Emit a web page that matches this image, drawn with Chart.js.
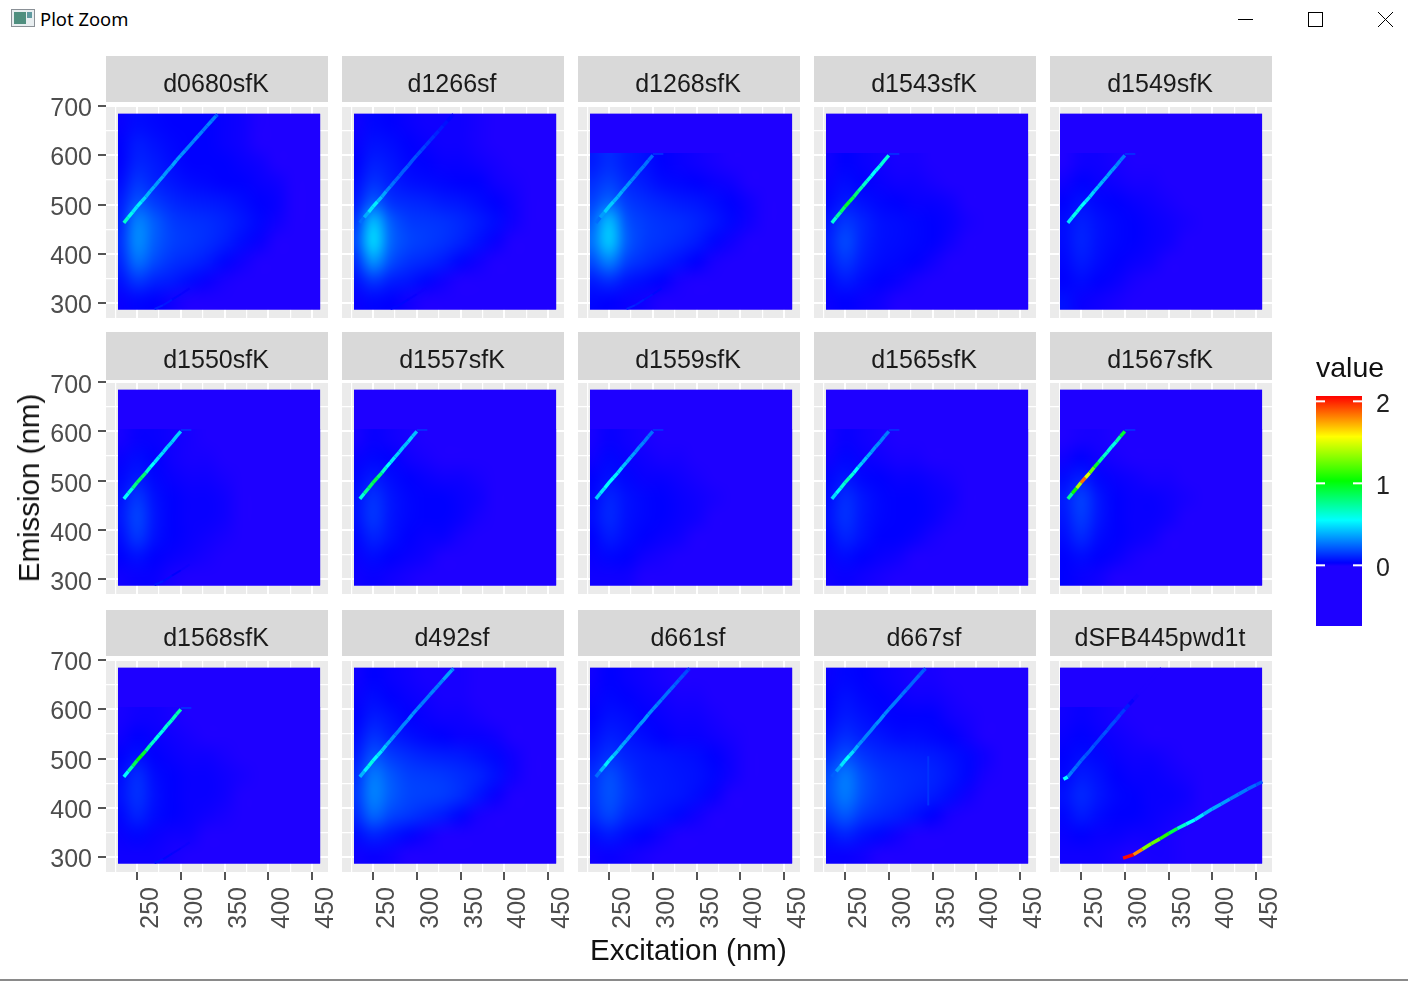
<!DOCTYPE html>
<html lang="en">

<head>
    <meta charset="UTF-8">
    <title>Plot Zoom</title>
    <script src="https://cdn.jsdelivr.net/npm/chart.js"></script>
    <style>
        html,
        body {
            margin: 0;
            padding: 0;
            width: 1408px;
            height: 981px;
            overflow: hidden;
            background-color: #ffffff;
            font-family: "Liberation Sans", Arial, sans-serif;
        }

        canvas,
        .strip,
        .label,
        .win {
            position: absolute;
        }

        canvas,
        .strip,
        .label {
            filter: blur(0.5px);
        }

        .strip {
            width: 222px;
            background: #d9d9d9;
            color: #1a1a1a;
            font-size: 25px;
            text-align: center;
        }

        .label {
            font-size: 29.5px;
            color: #111111;
            white-space: nowrap;
        }
    </style>
</head>

<body>
    <svg class="win" style="left:11px;top:9px" width="24" height="18">
        <rect x="0.5" y="0.5" width="23" height="17" fill="#e8eef0" stroke="#8a9096" />
        <rect x="3" y="3" width="12" height="12" fill="#4f8f7f" />
        <rect x="16" y="3" width="5" height="6" fill="#5f9aa0" />
    </svg>
    <div class="win" style="left:40px;top:6px;font:18.4px 'Noto Sans';color:#000">Plot Zoom</div>
    <svg class="win" style="left:1230px;top:8px" width="170" height="24">
        <line x1="8" y1="11.5" x2="23" y2="11.5" stroke="#000" />
        <rect x="78.5" y="4.5" width="14" height="14" fill="none" stroke="#000" />
        <path d="M148 4 L163 19 M163 4 L148 19" stroke="#000" fill="none" />
    </svg>
    <div class="win" style="left:0;top:979px;width:1408px;height:2px;background:#8a8a8a"></div>

    <div class="label" style="left:590px;top:933px">Excitation (nm)</div>
    <div class="label" style="left:29px;top:488px;transform:translate(-50%,-50%) rotate(-90deg)">Emission (nm)</div>
    <div class="label" style="left:1316px;top:351px;font-size:28.5px">value</div>

    <script>
        const panelNames = [
            'd0680sfK', 'd1266sf', 'd1268sfK', 'd1543sfK', 'd1549sfK',
            'd1550sfK', 'd1557sfK', 'd1559sfK', 'd1565sfK', 'd1567sfK',
            'd1568sfK', 'd492sf', 'd661sf', 'd667sf', 'dSFB445pwd1t'
        ];

        const xGrid = [225, 250, 275, 300, 325, 350, 375, 400, 425, 450];
        const xLabels = [250, 300, 350, 400, 450];
        const yGrid = [300, 350, 400, 450, 500, 550, 600, 650, 700];
        const yLabels = [300, 400, 500, 600, 700];
        const legendLabels = [0, 1, 2];

        // colour bar, values in hundredths
        const stopValues = [-75, -1, 3, 55, 103, 157, 207];
        const stopColours = [[30, 0, 255], [30, 0, 255], [0, 0, 255], [0, 255, 255], [0, 255, 0], [255, 255, 0], [255, 0, 0]];

        // heat cells: columns are excitation, rows run from top (665) to bottom (305), values in hundredths
        const heatEx = [230, 250, 270, 290, 310, 330, 350, 370, 390, 410, 430, 450];
        const heatEm = [665, 625, 585, 545, 505, 465, 425, 385, 345, 305];

        const heatD0680 = [
            [2, 5, 4, 3, 3, 3, 2, 1, -1, -3, -5, -5],
            [3, 8, 6, 4, 3, 3, 2, 1, -1, -3, -5, -5],
            [3, 10, 8, 5, 3, 3, 3, 2, 1, -1, -4, -5],
            [5, 14, 10, 7, 5, 4, 3, 3, 2, 1, -2, -5],
            [8, 20, 15, 11, 9, 8, 7, 5, 3, 2, -2, -5],
            [10, 30, 22, 15, 13, 12, 10, 7, 4, 1, -3, -5],
            [12, 32, 22, 16, 14, 12, 9, 5, 2, -2, -5, -5],
            [10, 26, 18, 13, 11, 8, 4, 1, -2, -4, -5, -5],
            [6, 14, 10, 8, 5, 2, 0, -3, -5, -5, -5, -5],
            [2, 4, 3, 1, -1, -3, -5, -5, -5, -5, -5, -5]
        ];
        const heatD1266 = [
            [1, 4, 3, 2, 1, 1, 1, 0, -2, -4, -5, -5],
            [2, 6, 5, 3, 2, 1, 1, 0, -1, -3, -5, -5],
            [3, 9, 7, 4, 3, 2, 2, 1, 0, -2, -4, -5],
            [5, 13, 9, 6, 5, 4, 3, 3, 1, 0, -3, -5],
            [8, 22, 13, 11, 10, 8, 7, 5, 3, 1, -2, -5],
            [14, 42, 22, 15, 14, 13, 11, 8, 5, 1, -3, -5],
            [18, 48, 24, 17, 15, 13, 10, 6, 2, -2, -5, -5],
            [12, 34, 19, 13, 11, 8, 4, 1, -2, -4, -5, -5],
            [6, 14, 9, 7, 4, 1, -1, -3, -5, -5, -5, -5],
            [2, 4, 3, 1, -1, -3, -5, -5, -5, -5, -5, -5]
        ];
        const heatD1268 = [
            [8, 12, 8, 6, 3, 2, 1, 0, -1, -3, -5, -5],
            [12, 16, 11, 8, 5, 4, 3, 2, 1, -1, -3, -5],
            [16, 24, 15, 12, 10, 8, 7, 5, 3, 1, -1, -5],
            [22, 42, 20, 15, 13, 12, 10, 7, 4, 1, -3, -5],
            [26, 45, 22, 15, 13, 11, 8, 4, 1, -3, -5, -5],
            [18, 30, 16, 12, 9, 6, 3, 0, -3, -5, -5, -5],
            [8, 12, 7, 5, 3, 0, -3, -5, -5, -5, -5, -5],
            [4, 3, 2, 1, -1, -4, -5, -5, -5, -5, -5, -5]
        ];
        const heatD1543 = [
            [1, 3, 2, 1, 0, 0, -1, -2, -4, -5, -5, -5],
            [2, 5, 3, 2, 1, 1, 0, -1, -3, -5, -5, -5],
            [4, 8, 6, 4, 3, 2, 2, 1, -1, -4, -5, -5],
            [7, 14, 10, 6, 5, 4, 3, 2, 0, -3, -5, -5],
            [9, 18, 10, 6, 5, 4, 3, 1, -2, -5, -5, -5],
            [7, 14, 8, 5, 4, 3, 1, -2, -4, -5, -5, -5],
            [4, 8, 5, 3, 2, 0, -2, -4, -5, -5, -5, -5],
            [2, 3, 2, 1, -1, -3, -5, -5, -5, -5, -5, -5]
        ];
        const heatD1549 = [
            [-1, 1, 1, 0, -1, -2, -3, -4, -5, -5, -5, -5],
            [1, 3, 2, 1, 0, 0, -1, -2, -4, -5, -5, -5],
            [3, 6, 4, 3, 2, 1, 0, -1, -3, -5, -5, -5],
            [5, 9, 6, 4, 3, 2, 1, 0, -2, -4, -5, -5],
            [5, 10, 6, 4, 3, 2, 1, -1, -3, -5, -5, -5],
            [4, 8, 5, 3, 2, 1, -1, -3, -5, -5, -5, -5],
            [3, 5, 3, 2, 0, -2, -4, -5, -5, -5, -5, -5],
            [6, 2, 1, 0, -2, -4, -5, -5, -5, -5, -5, -5]
        ];
        const heatD1550 = [
            [0, 2, 2, 1, 0, -1, -2, -4, -5, -5, -5, -5],
            [2, 5, 3, 1, 0, 0, -1, -3, -5, -5, -5, -5],
            [4, 8, 4, 2, 1, 1, 0, -2, -4, -5, -5, -5],
            [6, 14, 6, 3, 2, 2, 1, -1, -3, -5, -5, -5],
            [7, 17, 7, 3, 2, 2, 1, -1, -4, -5, -5, -5],
            [5, 14, 6, 3, 2, 1, 0, -3, -5, -5, -5, -5],
            [3, 6, 3, 2, 1, 0, -2, -4, -5, -5, -5, -5],
            [1, 2, 2, 0, -1, -3, -5, -5, -5, -5, -5, -5]
        ];
        const heatD1557 = [
            [0, 2, 1, 0, -1, -2, -3, -4, -5, -5, -5, -5],
            [2, 4, 3, 1, 0, -1, -1, -2, -4, -5, -5, -5],
            [4, 8, 5, 3, 2, 1, 1, 0, -2, -4, -5, -5],
            [6, 13, 7, 4, 3, 3, 2, 1, -1, -3, -5, -5],
            [6, 14, 7, 4, 3, 3, 2, 0, -2, -4, -5, -5],
            [4, 10, 6, 3, 2, 2, 0, -2, -4, -5, -5, -5],
            [2, 5, 3, 2, 1, -1, -3, -5, -5, -5, -5, -5],
            [1, 2, 1, 0, -2, -4, -5, -5, -5, -5, -5, -5]
        ];
        const heatD1559 = [
            [0, 2, 1, 0, -1, -1, -2, -3, -5, -5, -5, -5],
            [1, 4, 2, 1, 0, 0, -1, -2, -4, -5, -5, -5],
            [3, 6, 4, 2, 2, 1, 0, -1, -3, -5, -5, -5],
            [4, 10, 6, 4, 3, 2, 1, 0, -2, -4, -5, -5],
            [5, 11, 6, 4, 3, 2, 1, -1, -3, -5, -5, -5],
            [3, 8, 5, 3, 2, 1, -1, -3, -5, -5, -5, -5],
            [2, 4, 3, 1, 0, -1, -3, -5, -5, -5, -5, -5],
            [1, 1, 1, -1, -3, -5, -5, -5, -5, -5, -5, -5]
        ];
        const heatD1565 = [
            [0, 2, 1, 0, -1, -1, -2, -3, -5, -5, -5, -5],
            [1, 4, 2, 1, 0, 0, -1, -2, -4, -5, -5, -5],
            [4, 7, 4, 3, 2, 2, 1, 0, -2, -4, -5, -5],
            [5, 12, 7, 4, 3, 3, 2, 1, -1, -3, -5, -5],
            [6, 13, 7, 4, 3, 3, 2, 0, -2, -4, -5, -5],
            [4, 10, 6, 3, 3, 2, 0, -2, -4, -5, -5, -5],
            [2, 5, 3, 2, 1, -1, -3, -5, -5, -5, -5, -5],
            [1, 2, 1, 0, -2, -4, -5, -5, -5, -5, -5, -5]
        ];
        const heatD1567 = [
            [-1, 0, 0, -1, -2, -3, -4, -5, -5, -5, -5, -5],
            [1, 3, 1, 0, -1, -1, -2, -3, -5, -5, -5, -5],
            [5, 9, 4, 2, 1, 0, 0, -1, -3, -5, -5, -5],
            [8, 16, 7, 3, 2, 2, 1, 0, -2, -4, -5, -5],
            [7, 15, 7, 3, 2, 2, 1, -1, -3, -5, -5, -5],
            [5, 11, 5, 3, 2, 1, -1, -3, -5, -5, -5, -5],
            [3, 5, 3, 2, 0, -2, -4, -5, -5, -5, -5, -5],
            [3, 2, 1, -1, -3, -5, -5, -5, -5, -5, -5, -5]
        ];
        const heatD1568 = [
            [0, 1, 1, 0, -1, -2, -3, -4, -5, -5, -5, -5],
            [1, 3, 2, 1, 0, -1, -1, -2, -4, -5, -5, -5],
            [3, 6, 3, 2, 1, 1, 0, -1, -3, -5, -5, -5],
            [5, 12, 5, 3, 2, 2, 1, 0, -2, -4, -5, -5],
            [6, 13, 6, 3, 2, 2, 1, -1, -3, -5, -5, -5],
            [4, 10, 5, 3, 2, 1, 0, -2, -4, -5, -5, -5],
            [2, 4, 2, 1, 1, -1, -3, -5, -5, -5, -5, -5],
            [1, 1, 1, 0, -2, -4, -5, -5, -5, -5, -5, -5]
        ];
        const heatD492 = [
            [1, 3, 2, 1, 0, 0, 0, -1, -3, -5, -5, -5],
            [2, 5, 3, 2, 1, 0, 0, -1, -2, -4, -5, -5],
            [3, 8, 6, 3, 2, 1, 1, 0, -1, -3, -5, -5],
            [5, 13, 9, 6, 4, 3, 2, 2, 1, -1, -4, -5],
            [8, 20, 15, 12, 10, 9, 8, 6, 4, 1, -3, -5],
            [12, 28, 21, 16, 15, 14, 12, 10, 6, 1, -4, -5],
            [14, 30, 22, 17, 16, 15, 12, 7, 2, -2, -5, -5],
            [11, 24, 17, 14, 11, 8, 4, 0, -3, -5, -5, -5],
            [5, 10, 7, 4, 1, -1, -3, -5, -5, -5, -5, -5],
            [1, 2, 1, -1, -3, -5, -5, -5, -5, -5, -5, -5]
        ];
        const heatD661 = [
            [1, 3, 2, 1, 0, -1, -1, -2, -4, -5, -5, -5],
            [2, 4, 3, 2, 1, 0, 0, -1, -3, -5, -5, -5],
            [3, 6, 5, 3, 2, 1, 1, 0, -2, -4, -5, -5],
            [5, 9, 7, 5, 3, 2, 2, 1, 0, -2, -5, -5],
            [8, 13, 10, 8, 7, 6, 5, 3, 1, -1, -4, -5],
            [12, 19, 13, 9, 8, 7, 6, 4, 1, -2, -5, -5],
            [13, 20, 14, 10, 8, 7, 5, 2, -1, -4, -5, -5],
            [11, 17, 11, 8, 6, 4, 1, -2, -4, -5, -5, -5],
            [5, 8, 5, 3, 1, -1, -3, -5, -5, -5, -5, -5],
            [1, 2, 1, 0, -2, -4, -5, -5, -5, -5, -5, -5]
        ];
        const heatD667 = [
            [2, 4, 3, 2, 1, 0, 0, -1, -3, -5, -5, -5],
            [3, 6, 4, 3, 2, 1, 1, 0, -2, -4, -5, -5],
            [4, 8, 6, 4, 3, 3, 3, 1, 0, -3, -5, -5],
            [7, 12, 9, 7, 5, 5, 4, 3, 1, -1, -4, -5],
            [12, 19, 14, 11, 10, 9, 8, 6, 4, 1, -3, -5],
            [18, 28, 19, 14, 12, 11, 10, 7, 4, 0, -4, -5],
            [19, 28, 19, 14, 12, 10, 8, 5, 1, -3, -5, -5],
            [14, 21, 14, 11, 9, 6, 3, 0, -3, -5, -5, -5],
            [6, 10, 6, 4, 1, -1, -3, -5, -5, -5, -5, -5],
            [2, 2, 1, -1, -3, -5, -5, -5, -5, -5, -5, -5]
        ];
        const heatDSFB = [
            [1, 2, 1, 0, -1, -2, -3, -4, -5, -5, -5, -5],
            [2, 3, 2, 1, 0, -1, -1, -2, -4, -5, -5, -5],
            [3, 5, 4, 2, 1, 1, 0, -1, -2, -4, -5, -5],
            [4, 8, 6, 3, 2, 2, 1, 0, -1, -3, -5, -5],
            [6, 11, 7, 4, 3, 2, 2, 1, -1, -3, -5, -5],
            [4, 8, 5, 3, 3, 2, 1, 0, -1, -3, -5, -5],
            [2, 3, 2, 2, 1, 1, 0, -1, -3, -5, -5, -5],
            [1, 1, 1, 0, -1, 0, 0, -2, -4, -5, -5, -5]
        ];
        const panelHeat = [
            heatD0680, heatD1266, heatD1268, heatD1543, heatD1549,
            heatD1550, heatD1557, heatD1559, heatD1565, heatD1567,
            heatD1568, heatD492, heatD661, heatD667, heatDSFB
        ];

        // second order line, null where a sample has no value
        const ridgeEx = [230, 235, 240, 245, 250, 255, 260, 265, 270, 275, 280, 285, 290, 295, 300, 305, 310, 315, 320, 325, 330, 335, 340, 342];
        const ridgeEm = [458, 463, 474, 485, 496, 506, 516, 527, 537, 548, 558, 569, 579, 590, 600, 610, 620, 630, 640, 650, 660, 670, 680, 683];
        const ridgeD0680 = [null, 65, 58, 50, 52, 46, 40, 38, 35, 37, 34, 33, 36, 35, 32, 30, 30, 32, 30, 28, 30, 28, 22, 15];
        const ridgeD1266 = [null, 25, 38, 50, 52, 42, 36, 30, 26, 24, 22, 22, 20, 20, 18, 16, 14, 12, 10, 8, 6, 4, 2, 0];
        const ridgeD1268 = [null, 25, 35, 45, 45, 40, 38, 35, 33, 30, 28, 27, 26, 24, 22, null, null, null, null, null, null, null, null, null];
        const ridgeD1543 = [null, 62, 72, 85, 95, 90, 82, 72, 65, 60, 55, 58, 62, 62, 48, null, null, null, null, null, null, null, null, null];
        const ridgeD1549 = [null, 50, 58, 60, 55, 50, 46, 42, 40, 38, 36, 34, 30, 28, 22, null, null, null, null, null, null, null, null, null];
        const ridgeD1550 = [null, 55, 62, 78, 85, 82, 65, 55, 50, 48, 46, 44, 46, 46, 38, null, null, null, null, null, null, null, null, null];
        const ridgeD1557 = [null, 62, 75, 85, 90, 80, 65, 55, 50, 46, 44, 42, 46, 42, 30, null, null, null, null, null, null, null, null, null];
        const ridgeD1559 = [null, 45, 50, 55, 55, 52, 48, 42, 38, 35, 32, 30, 28, 26, 20, null, null, null, null, null, null, null, null, null];
        const ridgeD1565 = [null, 48, 55, 62, 68, 62, 56, 45, 42, 38, 34, 32, 30, 28, 18, null, null, null, null, null, null, null, null, null];
        const ridgeD1567 = [null, 75, 105, 140, 185, 150, 125, 95, 75, 65, 62, 60, 72, 95, 125, null, null, null, null, null, null, null, null, null];
        const ridgeD1568 = [null, 55, 72, 88, 105, 95, 75, 65, 60, 58, 62, 65, 68, 72, 60, null, null, null, null, null, null, null, null, null];
        const ridgeD492 = [null, 40, 52, 60, 55, 50, 44, 38, 34, 30, 30, 30, 34, 32, 30, 28, 28, 30, 28, 30, 36, 36, 30, 20];
        const ridgeD661 = [null, 25, 40, 52, 48, 42, 38, 36, 34, 32, 32, 34, 34, 32, 30, 28, 26, 26, 24, 22, 20, 18, 14, 8];
        const ridgeD667 = [null, 22, 35, 50, 55, 48, 38, 32, 30, 30, 30, 32, 32, 30, 28, 28, 28, 26, 24, 24, 24, 22, 20, 12];
        const ridgeDSFB = [55, 28, 26, 24, 22, 20, 20, 18, 18, 20, 18, 18, 16, 14, 8, 2, 0, -1, -2, -3, -3, -4, -4, -5];
        const panelRidge = [
            ridgeD0680, ridgeD1266, ridgeD1268, ridgeD1543, ridgeD1549,
            ridgeD1550, ridgeD1557, ridgeD1559, ridgeD1565, ridgeD1567,
            ridgeD1568, ridgeD492, ridgeD661, ridgeD667, ridgeDSFB
        ];

        // faint tail where the cut off ridge ends
        const tailEx = [300, 312];
        const tailEm = [603, 603];
        const tailValues = [14, 5];

        // faint streak near the bottom, empty when there is none to see
        const lowEx = [270, 280, 290, 300, 310];
        const lowEm = [288, 296, 307, 318, 330];
        const panelLow = [
            [9, 7, 4, 2, 1], [4, 4, 2, 1, 0], [10, 8, 6, 4, 2], [], [],
            [7, 5, 3, 1, 1], [], [], [], [],
            [6, 4, 2, 1, 1], [], [], [], []
        ];

        // thin vertical streak in d667sf
        const streakEx = [345, 345];
        const streakEm = [405, 505];
        const streakValues = [13, 13];

        // first order line in the last panel
        const firstEx = [298, 310, 320, 330, 340, 350, 360, 370, 380, 390, 400, 410, 420, 430, 440, 450, 457];
        const firstEm = [298, 305, 316, 327, 337, 348, 358, 367, 376, 387, 398, 408, 418, 428, 438, 447, 453];
        const firstValues = [205, 180, 130, 125, 110, 90, 65, 55, 50, 40, 38, 35, 30, 28, 25, 20, 18];

        const colLefts = [106, 342, 578, 814, 1050];
        const rowTops = [106, 382, 660];
        const stripTops = [56, 332, 610];
        const stripHeights = [46, 48, 46];
        const stripLines = [54, 54, 54];
        const labelOffsets = [3, 4, 3];
        const heatLows = [228.3, 228.3, 228.3, 228.3, 226];
        const heatHighs = [459, 459, 459, 459, 456.7];
        const panelW = 222;
        const panelH = 212;
        const topPad = 14;
        const rightPad = 26;
        const yAxisW = 56;
        const xAxisH = 64;

        function valueColour(v) {
            if (v <= stopValues[0]) return stopColours[0];
            for (let i = 1; i < stopValues.length; i++) {
                if (v <= stopValues[i]) {
                    const t = (v - stopValues[i - 1]) / (stopValues[i] - stopValues[i - 1]);
                    return stopColours[i].map((c, k) => Math.round(stopColours[i - 1][k] + (c - stopColours[i - 1][k]) * t));
                }
            }
            return stopColours[stopColours.length - 1];
        }

        function css(rgb) {
            return 'rgb(' + rgb.join(',') + ')';
        }

        // one small image per panel, one pixel per heat cell
        function heatImage(rows) {
            const c = document.createElement('canvas');
            c.width = rows[0].length;
            c.height = rows.length;
            const g = c.getContext('2d');
            rows.forEach((row, r) => row.forEach((v, k) => {
                g.fillStyle = css(valueColour(v));
                g.fillRect(k, r, 1, 1);
            }));
            return c;
        }

        function lineSet(exs, ems, vals, width) {
            const pts = [];
            vals.forEach((v, i) => {
                if (v !== null) pts.push({ x: exs[i], y: ems[i], v: v });
            });
            return {
                data: pts,
                showLine: true,
                pointRadius: 0,
                borderWidth: width,
                borderColor: '#0000ff',
                segment: { borderColor: ctx => css(valueColour(pts[ctx.p0DataIndex].v)) }
            };
        }

        const heatPlugin = {
            id: 'heat',
            beforeDraw(chart) {
                const a = chart.chartArea;
                chart.ctx.fillStyle = '#ebebeb';
                chart.ctx.fillRect(a.left, a.top, a.width, a.height);
            },
            beforeDatasetsDraw(chart, args, opts) {
                const { x, y } = chart.scales;
                const ctx = chart.ctx;
                const left = x.getPixelForValue(opts.low), right = x.getPixelForValue(opts.high);
                const top = y.getPixelForValue(685), bottom = y.getPixelForValue(287);
                ctx.save();
                ctx.fillStyle = css(stopColours[0]);
                ctx.fillRect(left, top, right - left, bottom - top);
                ctx.beginPath();
                ctx.rect(left, top, right - left, bottom - top);
                ctx.clip();
                ctx.imageSmoothingEnabled = true;
                ctx.imageSmoothingQuality = 'high';
                const n = opts.rows.length;
                const emHigh = heatEm[heatEm.length - n] + 20, emLow = heatEm[heatEm.length - 1] - 20;
                const exLow = heatEx[0] - 10, exHigh = heatEx[heatEx.length - 1] + 10;
                const px = x.getPixelForValue(exLow), py = y.getPixelForValue(emHigh);
                ctx.drawImage(opts.image, px, py, x.getPixelForValue(exHigh) - px, y.getPixelForValue(emLow) - py);
                ctx.restore();
            }
        };

        function fixedAxis(size, horizontal) {
            return function (scale) {
                if (horizontal) scale.height = size; else scale.width = size;
                scale.paddingLeft = scale.paddingRight = scale.paddingTop = scale.paddingBottom = 0;
            };
        }

        function axisGrid(majors) {
            return {
                color: '#ffffff',
                lineWidth: ctx => (majors.includes(ctx.tick.value) ? 2 : 1.2),
                tickColor: ctx => (majors.includes(ctx.tick.value) ? '#555555' : 'rgba(0,0,0,0)'),
                tickWidth: 2,
                tickLength: 8
            };
        }

        panelNames.forEach((name, p) => {
            const col = p % 5, row = Math.floor(p / 5);
            const showY = col === 0, showX = row === 2;
            const yw = showY ? yAxisW : 0, xh = showX ? xAxisH : 0;

            const strip = document.createElement('div');
            strip.className = 'strip';
            strip.textContent = name;
            strip.style.cssText = 'left:' + colLefts[col] + 'px;top:' + stripTops[row] + 'px;height:' + stripHeights[row] + 'px;line-height:' + stripLines[row] + 'px;text-indent:-2px';
            document.body.appendChild(strip);

            const canvas = document.createElement('canvas');
            canvas.width = yw + panelW + rightPad;
            canvas.height = topPad + panelH + xh;
            canvas.style.left = (colLefts[col] - yw) + 'px';
            canvas.style.top = (rowTops[row] - topPad) + 'px';
            document.body.appendChild(canvas);

            const rows = panelHeat[p];
            const datasets = [lineSet(ridgeEx, ridgeEm, panelRidge[p], 3.5)];
            if (panelLow[p].length) datasets.push(lineSet(lowEx, lowEm, panelLow[p], 2));
            if (rows.length < heatEm.length && p !== 14) datasets.push(lineSet(tailEx, tailEm, tailValues, 1.5));
            if (p === 13) datasets.push(lineSet(streakEx, streakEm, streakValues, 2));
            if (p === 14) datasets.push(lineSet(firstEx, firstEm, firstValues, 3.5));

            const xGridOpts = axisGrid(xLabels);
            const yGridOpts = axisGrid(yLabels);
            if (!showX) xGridOpts.drawTicks = false;
            if (!showY) yGridOpts.drawTicks = false;

            new Chart(canvas, {
                type: 'scatter',
                data: { datasets: datasets },
                plugins: [heatPlugin],
                options: {
                    responsive: false,
                    animation: false,
                    devicePixelRatio: 1,
                    layout: { padding: { top: topPad, right: rightPad, left: 0, bottom: 0 } },
                    plugins: {
                        legend: { display: false },
                        tooltip: { enabled: false },
                        heat: { rows: rows, image: heatImage(rows), low: heatLows[col], high: heatHighs[col] }
                    },
                    scales: {
                        x: {
                            type: 'linear',
                            min: 214.6,
                            max: 468,
                            border: { display: false },
                            grid: xGridOpts,
                            afterBuildTicks: s => { s.ticks = xGrid.map(v => ({ value: v })); },
                            afterFit: fixedAxis(xh, true),
                            ticks: {
                                display: showX,
                                autoSkip: false,
                                minRotation: 90,
                                maxRotation: 90,
                                padding: 7,
                                labelOffset: 14,
                                color: '#4d4d4d',
                                font: { family: 'Liberation Sans', size: 25 },
                                callback: v => (xLabels.includes(v) ? String(v) : '')
                            }
                        },
                        y: {
                            type: 'linear',
                            min: 269.7,
                            max: 700.5,
                            border: { display: false },
                            grid: yGridOpts,
                            afterBuildTicks: s => { s.ticks = yGrid.map(v => ({ value: v })); },
                            afterFit: fixedAxis(yw, false),
                            ticks: {
                                display: showY,
                                autoSkip: false,
                                padding: 6,
                                labelOffset: labelOffsets[row],
                                color: '#4d4d4d',
                                font: { family: 'Liberation Sans', size: 25 },
                                callback: v => (yLabels.includes(v) ? String(v) : '')
                            }
                        }
                    }
                }
            });
        });

        // colour bar
        const barPlugin = {
            id: 'bar',
            beforeDatasetsDraw(chart) {
                const a = chart.chartArea, y = chart.scales.y, ctx = chart.ctx;
                const g = ctx.createLinearGradient(0, a.bottom, 0, a.top);
                const span = y.max * 100 - y.min * 100;
                stopValues.forEach((v, i) => {
                    g.addColorStop(Math.min(1, Math.max(0, (v - y.min * 100) / span)), css(stopColours[i]));
                });
                ctx.fillStyle = g;
                ctx.fillRect(a.left, a.top, a.width, a.height);
                ctx.fillStyle = '#ffffff';
                legendLabels.forEach(v => {
                    const py = y.getPixelForValue(v);
                    ctx.fillRect(a.left, py - 1, 9, 2);
                    ctx.fillRect(a.right - 9, py - 1, 9, 2);
                });
            }
        };

        const barCanvas = document.createElement('canvas');
        barCanvas.width = 92;
        barCanvas.height = 250;
        barCanvas.style.left = '1316px';
        barCanvas.style.top = '386px';
        document.body.appendChild(barCanvas);

        new Chart(barCanvas, {
            type: 'scatter',
            data: { datasets: [] },
            plugins: [barPlugin],
            options: {
                responsive: false,
                animation: false,
                devicePixelRatio: 1,
                layout: { padding: { top: 10, bottom: 10, left: 0, right: 0 } },
                plugins: { legend: { display: false }, tooltip: { enabled: false } },
                scales: {
                    x: { display: false, min: 0, max: 1 },
                    y: {
                        position: 'right',
                        min: -0.74,
                        max: 2.065,
                        border: { display: false },
                        grid: { display: false },
                        afterBuildTicks: s => { s.ticks = legendLabels.map(v => ({ value: v })); },
                        afterFit: fixedAxis(46, false),
                        ticks: {
                            padding: 6,
                            labelOffset: 4,
                            color: '#222222',
                            font: { family: 'Liberation Sans', size: 25 },
                            callback: v => String(v)
                        }
                    }
                }
            }
        });
    </script>
</body>

</html>
